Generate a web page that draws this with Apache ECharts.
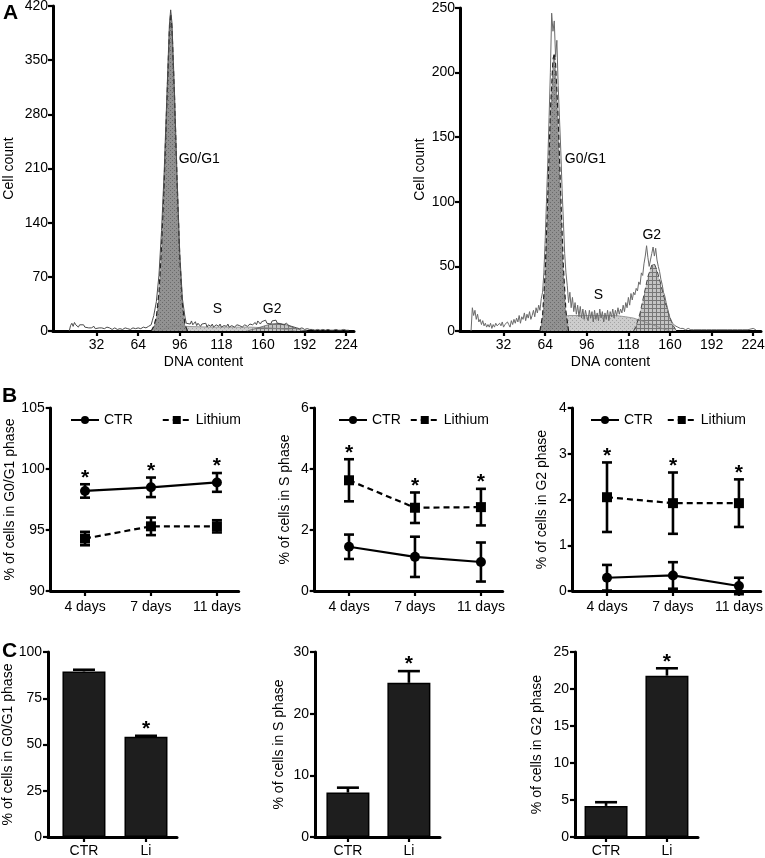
<!DOCTYPE html>
<html><head><meta charset="utf-8">
<script src="https://cdn.jsdelivr.net/npm/echarts@6/dist/echarts.min.js"></script>
<style>html,body{margin:0;padding:0;background:#fff}#c{width:765px;height:858px}</style>
</head><body><div id="c"></div><script>
// ---------------- DATA ----------------
const dnaTicks = [32, 64, 96, 128, 160, 192, 224];
const dnaTickLabels = ['32', '64', '96', '118', '160', '192', '224'];

// Panel A left (control) histogram: [DNA content, cell count]
const ctrRaw = [[11,0],[12,7],[13,10],[14,6],[15,11],[16,8],[17,9],[18,5],[19,8],[20,6],[22,8],[23,5],[24,7],[26,4],[27,6],[28,4],[30,6],[31,3],[32,5],[34,4],[35,2],[36,4],[38,3],[40,5],[41,3],[42,4],[44,2],[46,4],[47,3],[48,2],[50,3],[52,2],[54,4],[55,2],[56,3],[58,2],[60,4],[62,3],[63,2],[64,4],[66,3],[68,5],[69,3],[70,4],[72,6],[74,8],[75,14],[76,20],[78,38],[80,72],[82,130],[84,205],[86,300],[88,395],[89,415],[90,398],[92,305],[94,195],[96,100],[98,42],[100,18],[101,10],[102,12],[104,9],[105,13],[106,8],[108,12],[109,7],[110,10],[112,6],[113,9],[114,7],[116,10],[117,5],[118,8],[120,6],[121,9],[122,5],[124,8],[126,6],[127,9],[128,5],[130,7],[132,6],[133,9],[134,5],[136,7],[138,5],[140,8],[141,6],[142,7],[144,5],[146,8],[148,6],[150,9],[151,7],[152,8],[154,11],[155,8],[156,13],[158,9],[159,12],[160,10],[162,14],[163,10],[164,12],[166,9],[167,13],[168,11],[170,14],[171,10],[172,12],[174,9],[175,11],[176,8],[178,10],[180,7],[182,6],[184,5],[186,4],[188,3],[190,4],[192,2],[194,3],[196,2],[198,2],[200,1],[202,2],[204,1],[206,2],[208,1],[210,2],[212,1],[214,1],[216,2],[218,1],[220,1],[222,2],[224,1],[226,1]];
const ctrFitG1 = [[74,0],[76,6],[78,18],[80,50],[82,110],[84,192],[86,292],[88,388],[89,410],[90,392],[92,300],[94,190],[96,95],[98,35],[100,8],[102,0]];
const ctrFitS = [[80,0],[86,4],[92,7],[100,6],[120,5],[150,5],[165,4],[178,2],[185,0]];
const ctrFitG2 = [[148,0],[154,3],[160,6],[166,9],[172,10],[178,8],[184,4],[190,1],[194,0]];
const ctrPhaseLabels = [[111, 222, 'G0/G1'], [125, 28, 'S'], [167, 28, 'G2']];

// Panel A right (lithium) histogram
const liRaw = [[7,0],[8,18],[9,12],[10,16],[11,9],[12,13],[13,7],[14,9],[15,5],[16,8],[17,4],[18,6],[19,3],[20,5],[21,3],[22,6],[23,2],[24,5],[25,3],[26,6],[27,4],[28,3],[29,6],[30,4],[31,7],[32,3],[33,5],[34,4],[35,7],[36,5],[37,3],[38,8],[39,5],[40,9],[41,6],[42,10],[43,7],[44,12],[45,6],[46,11],[47,9],[48,14],[49,8],[50,13],[51,10],[52,15],[53,9],[54,12],[55,16],[56,11],[57,18],[58,14],[59,20],[60,16],[61,25],[62,30],[63,45],[64,70],[65,100],[66,130],[67,165],[68,200],[69,246],[70,232],[71,240],[72,212],[73,225],[74,190],[75,165],[76,140],[77,110],[78,85],[79,60],[80,45],[81,35],[82,22],[83,30],[84,18],[85,26],[86,15],[87,22],[88,13],[89,20],[90,11],[91,19],[92,10],[93,17],[94,9],[95,16],[96,11],[97,8],[98,16],[99,10],[100,15],[101,7],[102,16],[103,9],[104,14],[105,8],[106,17],[107,10],[108,15],[109,7],[110,14],[111,9],[112,16],[113,8],[114,15],[115,11],[116,17],[117,10],[118,16],[119,12],[120,18],[121,13],[122,17],[123,14],[124,20],[125,15],[126,22],[127,18],[128,26],[129,20],[130,29],[131,24],[132,30],[133,28],[134,33],[135,31],[136,38],[137,36],[138,45],[139,43],[140,52],[141,58],[142,66],[143,57],[144,50],[145,55],[146,60],[147,65],[148,58],[149,64],[150,55],[151,50],[152,46],[153,40],[154,36],[155,30],[156,27],[157,22],[158,18],[159,14],[160,10],[161,8],[162,6],[163,5],[164,4],[165,3],[166,3],[168,2],[170,2],[172,1],[174,2],[176,1],[178,1],[180,1],[184,1],[188,1],[192,1],[196,1],[200,1],[204,1],[208,1],[212,1],[216,1],[220,1],[224,2],[226,1]];
const liFitG1 = [[60,0],[62,12],[64,45],[66,105],[68,170],[70,210],[71,215],[72,207],[74,165],[76,105],[78,50],[80,15],[82,0]];
const liFitS = [[66,0],[70,4],[74,8],[78,11],[82,12],[100,12],[118,12],[126,11],[132,10],[138,8],[146,5],[154,2],[160,0]];
const liFitG2 = [[132,0],[134,4],[137,14],[140,28],[143,42],[146,51],[148,52],[150,47],[153,36],[156,24],[159,13],[162,5],[165,0]];
const liPhaseLabels = [[95, 133, 'G0/G1'], [105, 28, 'S'], [146, 74, 'G2']];

// Panel B: time course (mean, SEM)
const days = ['4 days', '7 days', '11 days'];
const g1Ctr = [98.2, 98.5, 98.9];  const g1CtrErr = [0.55, 0.8, 0.77];
const g1Li  = [94.3, 95.3, 95.3];  const g1LiErr  = [0.55, 0.72, 0.5];
const sCtr  = [1.45, 1.12, 0.95];  const sCtrErr  = [0.4, 0.66, 0.64];
const sLi   = [3.63, 2.73, 2.75];  const sLiErr   = [0.69, 0.5, 0.6];
const g2Ctr = [0.29, 0.34, 0.11];  const g2CtrErr = [0.28, 0.29, 0.18];
const g2Li  = [2.05, 1.92, 1.92];  const g2LiErr  = [0.76, 0.67, 0.52];

// Panel C: bars (mean, SEM)
const groups = ['CTR', 'Li'];
const cG1 = [89.5, 54.2]; const cG1Err = [0.9, 0.5];
const cS  = [7.2, 25.0];  const cSErr  = [0.8, 1.9];
const cG2 = [4.2, 21.8];  const cG2Err = [0.5, 1.0];

// ---------------- STYLE / BUILD ----------------
const FONT = '"Liberation Sans", Arial, Helvetica, sans-serif';
function pattern(bg, fg, kind) {
  const c = document.createElement('canvas');
  c.width = 4; c.height = 4;
  const g = c.getContext('2d');
  g.fillStyle = bg; g.fillRect(0, 0, 4, 4);
  g.fillStyle = fg;
  if (kind === 'dot') { g.fillRect(0, 0, 1, 1); g.fillRect(2, 2, 1, 1); }
  else { g.fillRect(0, 0, 4, 1); g.fillRect(0, 0, 1, 4); }
  return { image: c, repeat: 'repeat' };
}
const patG1 = pattern('#929292', '#6a6a6a', 'dot');
const patS = pattern('#cdcdcd', '#a4a4a4', 'dot');
const patG2 = pattern('#c4c4c4', '#777777', 'grid');

function axis(o) {
  const base = {
    axisLine: { show: true, onZero: false, lineStyle: { color: '#000', width: 3 } },
    axisTick: { show: true, length: 5, lineStyle: { color: '#000', width: 2.2 } },
    axisLabel: { color: '#000', fontSize: 14, fontFamily: FONT },
    splitLine: { show: false },
    nameTextStyle: { color: '#000', fontSize: 14, fontFamily: FONT },
    nameLocation: 'middle'
  };
  for (const k in o) {
    if (base[k] && typeof base[k] === 'object' && typeof o[k] === 'object') base[k] = Object.assign({}, base[k], o[k]);
    else base[k] = o[k];
  }
  return base;
}

const grids = [
  { left: 53, top: 6, width: 301, height: 325 },     // A left
  { left: 460, top: 8, width: 301, height: 323 },    // A right
  { left: 50.7, top: 408, width: 188, height: 183 }, // B left
  { left: 314.7, top: 408, width: 188, height: 183 },// B mid
  { left: 572.7, top: 408, width: 188, height: 183 },// B right
  { left: 48, top: 652, width: 129, height: 185 },   // C left
  { left: 315, top: 652, width: 125, height: 185 },  // C mid
  { left: 575, top: 652, width: 123, height: 185 }   // C right
].map(g => Object.assign({ outerBoundsMode: 'none' }, g));

const dnaFmt = v => { const i = dnaTicks.indexOf(v); return i < 0 ? '' : dnaTickLabels[i]; };
const xAxes = [];
const yAxes = [];
[0, 1].forEach(gi => {
  xAxes.push(axis({ gridIndex: gi, type: 'value', min: -1.5, max: 230, name: 'DNA content', nameGap: 24,
    axisTick: { customValues: dnaTicks }, axisLabel: { customValues: dnaTicks, formatter: dnaFmt, margin: 7 } }));
});
yAxes.push(axis({ gridIndex: 0, type: 'value', min: 0, max: 420, interval: 70, name: 'Cell count', nameGap: 37, axisLabel: { margin: 5 } }));
yAxes.push(axis({ gridIndex: 1, type: 'value', min: 0, max: 250, interval: 50, name: 'Cell count', nameGap: 33, axisLabel: { margin: 5 } }));

const dayFmt = v => days[Math.round(v)] || '';
[2, 3, 4].forEach(gi => {
  xAxes.push(axis({ gridIndex: gi, type: 'value', min: -0.52, max: 2.33,
    axisTick: { customValues: [0, 1, 2] }, axisLabel: { customValues: [0, 1, 2], formatter: dayFmt, margin: 9 } }));
});
yAxes.push(axis({ gridIndex: 2, type: 'value', min: 90, max: 105, interval: 5, name: '% of cells in G0/G1 phase', nameGap: 32, axisLabel: { margin: 6 } }));
yAxes.push(axis({ gridIndex: 3, type: 'value', min: 0, max: 6, interval: 2, name: '% of cells in S phase', nameGap: 23, axisLabel: { margin: 6 } }));
yAxes.push(axis({ gridIndex: 4, type: 'value', min: 0, max: 4, interval: 1, name: '% of cells in G2 phase', nameGap: 24, axisLabel: { margin: 6 } }));

const grpFmt = v => groups[Math.round(v)] || '';
const cRanges = [[-0.58, 1.5], [-0.54, 1.51], [-0.51, 1.51]];
[5, 6, 7].forEach((gi, k) => {
  xAxes.push(axis({ gridIndex: gi, type: 'value', min: cRanges[k][0], max: cRanges[k][1],
    axisTick: { customValues: [0, 1] }, axisLabel: { customValues: [0, 1], formatter: grpFmt, margin: 7 } }));
});
yAxes.push(axis({ gridIndex: 5, type: 'value', min: 0, max: 100, interval: 25, name: '% of cells in G0/G1 phase', nameGap: 29, axisLabel: { margin: 6 } }));
yAxes.push(axis({ gridIndex: 6, type: 'value', min: 0, max: 30, interval: 10, name: '% of cells in S phase', nameGap: 29, axisLabel: { margin: 6 } }));
yAxes.push(axis({ gridIndex: 7, type: 'value', min: 0, max: 25, interval: 5, name: '% of cells in G2 phase', nameGap: 31, axisLabel: { margin: 6 } }));

const series = [];
function area(idx, data, fill, line) {
  series.push({ type: 'line', xAxisIndex: idx, yAxisIndex: idx, data: data, showSymbol: false, symbol: 'none',
    silent: true, animation: false, areaStyle: { color: fill, opacity: 1 }, lineStyle: line, z: 2 });
}
function rawLine(idx, data, color) {
  series.push({ type: 'line', xAxisIndex: idx, yAxisIndex: idx, data: data, showSymbol: false, symbol: 'none',
    silent: true, animation: false, lineStyle: { color: color, width: 1 }, z: 4 });
}
function texts(idx, items, size) {
  series.push({ type: 'custom', xAxisIndex: idx, yAxisIndex: idx, data: items, silent: true, animation: false, z: 6,
    renderItem: (p, api) => {
      const pt = api.coord([api.value(0), api.value(1)]);
      return { type: 'text', x: pt[0], y: pt[1], style: { text: items[p.dataIndex][2], fill: '#000', font: size + 'px ' + FONT, align: 'center', verticalAlign: 'middle' } };
    } });
}
// Panel A
area(0, ctrFitS, patS, { color: '#888', width: 0.8 });
area(0, ctrFitG2, patG2, { color: '#666', width: 0.8 });
area(0, ctrFitG1, patG1, { color: '#222', width: 1.2, type: [5, 3] });
rawLine(0, ctrRaw, '#4a4a4a');
texts(0, ctrPhaseLabels, 14);
area(1, liFitS, patS, { color: '#888', width: 0.8 });
area(1, liFitG2, patG2, { color: '#444', width: 1, type: [5, 3] });
area(1, liFitG1, patG1, { color: '#222', width: 1.2, type: [5, 3] });
rawLine(1, liRaw, '#6a6a6a');
texts(1, liPhaseLabels, 14);

// error bars
function errBars(idx, vals, errs, capW, upOnly) {
  series.push({ type: 'custom', xAxisIndex: idx, yAxisIndex: idx, silent: true, animation: false, z: 5,
    data: vals.map((v, i) => [i, v, errs[i]]),
    renderItem: (p, api) => {
      const x = api.value(0), v = api.value(1), e = api.value(2);
      const t = api.coord([x, v + e]);
      const b = api.coord([x, upOnly ? v : v - e]);
      const hw = capW / 2, st = { stroke: '#000', lineWidth: 2.6 };
      const ch = [
        { type: 'line', shape: { x1: t[0], y1: t[1], x2: b[0], y2: b[1] }, style: st },
        { type: 'line', shape: { x1: t[0] - hw, y1: t[1], x2: t[0] + hw, y2: t[1] }, style: st }
      ];
      if (!upOnly) ch.push({ type: 'line', shape: { x1: b[0] - hw, y1: b[1], x2: b[0] + hw, y2: b[1] }, style: st });
      return { type: 'group', children: ch };
    } });
}
function stars(idx, xs, tops) {
  series.push({ type: 'custom', xAxisIndex: idx, yAxisIndex: idx, silent: true, animation: false, z: 6,
    data: xs.map((x, i) => [x, tops[i]]),
    renderItem: (p, api) => {
      const pt = api.coord([api.value(0), api.value(1)]);
      return { type: 'text', x: pt[0], y: pt[1] + 4, style: { text: '*', fill: '#000', font: 'bold 21px ' + FONT, align: 'center', verticalAlign: 'bottom' } };
    } });
}
// Panel B
const bSets = [[2, g1Ctr, g1CtrErr, g1Li, g1LiErr], [3, sCtr, sCtrErr, sLi, sLiErr], [4, g2Ctr, g2CtrErr, g2Li, g2LiErr]];
bSets.forEach(([idx, c, ce, l, le]) => {
  errBars(idx, c, ce, 10, false);
  errBars(idx, l, le, 10, false);
  series.push({ name: 'CTR', type: 'line', xAxisIndex: idx, yAxisIndex: idx, data: c.map((v, i) => [i, v]),
    symbol: 'circle', symbolSize: 10, itemStyle: { color: '#000' }, lineStyle: { color: '#000', width: 2.2 }, z: 7, animation: false });
  series.push({ name: 'Lithium', type: 'line', xAxisIndex: idx, yAxisIndex: idx, data: l.map((v, i) => [i, v]),
    symbol: 'rect', symbolSize: 10, itemStyle: { color: '#000' }, lineStyle: { color: '#000', width: 2.2, type: [6, 4] }, z: 7, animation: false });
  stars(idx, [0, 1, 2], c.map((v, i) => Math.max(v + ce[i], l[i] + le[i])));
});
// Panel C
const cSets = [[5, cG1, cG1Err], [6, cS, cSErr], [7, cG2, cG2Err]];
cSets.forEach(([idx, v, e]) => {
  series.push({ type: 'bar', xAxisIndex: idx, yAxisIndex: idx, data: v.map((y, i) => [i, y]), barWidth: 43,
    itemStyle: { color: '#1e1e1e', borderColor: '#000', borderWidth: 1.5 }, z: 3, animation: false, silent: true });
  errBars(idx, v, e, 22, true);
  stars(idx, [1], [v[1] + e[1]]);
});

const legendBase = { top: 413, itemWidth: 28, itemHeight: 10, textStyle: { fontSize: 14, color: '#000', fontFamily: FONT }, data: ['CTR', 'Lithium'], selectedMode: false, padding: 0 };
const legends = [
  Object.assign({}, legendBase, { left: 70, itemGap: 29 }),
  Object.assign({}, legendBase, { left: 338, itemGap: 9 }),
  Object.assign({}, legendBase, { left: 590, itemGap: 14 })
];
const titles = [['A', 3, 3], ['B', 2, 386], ['C', 2, 641]].map(([t, l, tp]) => ({
  text: t, left: l, top: tp, padding: 0, textStyle: { fontSize: 21, fontWeight: 'bold', color: '#000', fontFamily: FONT } }));

const chart = echarts.init(document.getElementById('c'), null, { renderer: 'canvas' });
chart.setOption({
  animation: false,
  backgroundColor: '#fff',
  title: titles,
  legend: legends,
  grid: grids,
  xAxis: xAxes,
  yAxis: yAxes,
  series: series
});
</script></body></html>
